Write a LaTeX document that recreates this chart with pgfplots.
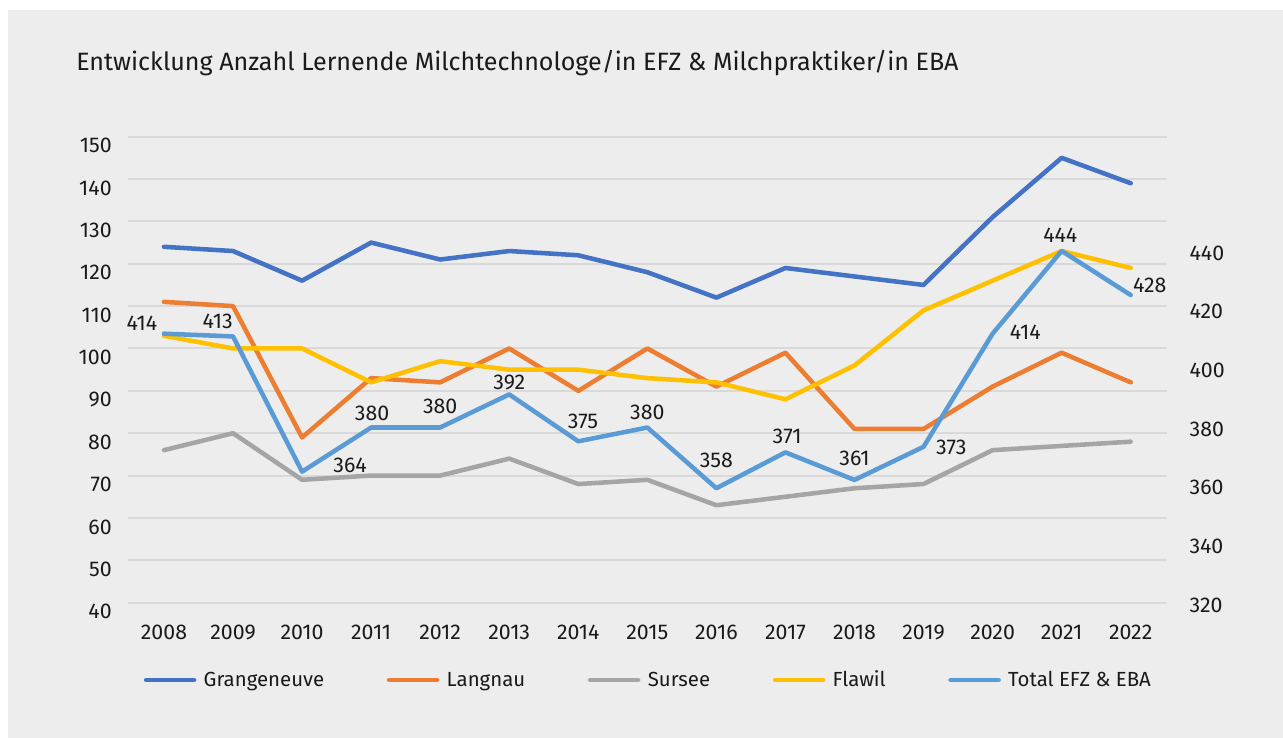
\documentclass[border=0pt]{standalone}
\usepackage{pgfplots}
\usepackage{pgfplotstable}
\pgfplotsset{compat=1.18}
\usepackage{fontspec}
\setmainfont{Fira Sans}
\definecolor{bg}{HTML}{EDEDED}
\definecolor{gridc}{HTML}{D9D9D9}
\definecolor{cG}{HTML}{4472C4}
\definecolor{cL}{HTML}{ED7D31}
\definecolor{cS}{HTML}{A5A5A5}
\definecolor{cF}{HTML}{FFC000}
\definecolor{cT}{HTML}{5B9BD5}
\definecolor{txt}{HTML}{1A1A1A}

\pgfplotstableread{
year G L S F
2008 124 111 76 103
2009 123 110 80 100
2010 116 79 69 100
2011 125 93 70 92
2012 121 92 70 97
2013 123 100 74 95
2014 122 90 68 95
2015 118 100 69 93
2016 112 91 63 92
2017 119 99 65 88
2018 117 81 67 96
2019 115 81 68 109
2020 131 91 76 116
2021 145 99 77 123
2022 139 92 78 119
}\primary

\pgfplotstableread{
year T dx dy
2008 414 -16.5 8
2009 413 -11.5 11
2010 364 36 4.5
2011 380 0.75 10.8
2012 380 0 15.75
2013 392 0 8.7
2014 375 3.5 15
2015 380 0 11.5
2016 358 0 21.2
2017 371 1.3 12
2018 361 0 16.3
2019 373 20.8 -0.5
2020 414 24.5 0.75
2021 444 -1 12
2022 428 14.25 7.3
}\total

\pgfplotsset{
  base/.style={
    scale only axis, width=779pt, height=349.5pt,
    at={(96pt,101.5pt)}, anchor=south west,
    xmin=2007.479, xmax=2022.521,
    axis line style={draw=none}, tick style={draw=none}, major tick length=0pt,
    clip=false,
    ticklabel style={font=\fontsize{16}{19}\selectfont, text=txt},
    /pgf/number format/assume math mode=true,
  },
  ser/.style={line width=3.4pt, line cap=round, line join=round},
}

\begin{document}
\begin{tikzpicture}
\fill[white] (0pt,0pt) rectangle (962.25pt,553.5pt);
\fill[bg] (6pt,0pt) rectangle (962.25pt,546pt);
\node[anchor=west, inner sep=0pt, font=\fontsize{18.8}{22}\selectfont, text=txt] at (57pt,506.5pt)
  {Entwicklung Anzahl Lernende Milchtechnologe/in EFZ \& Milchpraktiker/in EBA};

\begin{axis}[base,
  ymin=40, ymax=150, ytick={40,50,...,150},
  ymajorgrids, grid style={gridc, line width=1.5pt},
  xtick={2008,2009,2010,2011,2012,2013,2014,2015,2016,2017,2018,2019,2020,2021,2022},
  xticklabels={2008,2009,2010,2011,2012,2013,2014,2015,2016,2017,2018,2019,2020,2021,2022},
  xticklabel style={anchor=center, inner sep=0pt, yshift=-22.5pt},
  yticklabel style={anchor=east, inner sep=0pt, xshift=-12pt, yshift=-6.75pt},
  legend columns=5,
  legend style={at={(0.5,-0.166)}, anchor=center, draw=none, fill=none, inner sep=0pt,
    font=\fontsize{15.3}{18}\selectfont, text=txt,
    nodes={inner sep=0pt},
    /tikz/every odd column/.append style={column sep=5.5pt},
    /tikz/every even column/.append style={column sep=47pt}},
  legend image code/.code={\draw[#1, line width=3.4pt, line cap=round] (0pt,0pt) -- (36pt,0pt);},
]
\addplot[cG, ser] table[x=year, y=G]{\primary};
\addlegendentry{Grangeneuve}
\addplot[cL, ser] table[x=year, y=L]{\primary};
\addlegendentry{Langnau}
\addplot[cS, ser] table[x=year, y=S]{\primary};
\addlegendentry{Sursee}
\addplot[cF, ser] table[x=year, y=F]{\primary};
\addlegendentry{Flawil}
\addlegendimage{cT, ser}
\addlegendentry{Total EFZ \& EBA}
\end{axis}

\begin{axis}[base, hide axis, ymin=316.53, ymax=485.4]
\addplot[cT, ser, point meta=y,
  nodes near coords,
  visualization depends on={\thisrow{dx} \as \dx},
  visualization depends on={\thisrow{dy} \as \dy},
  every node near coord/.append style={anchor=center, inner sep=0pt,
    font=\fontsize{16}{19}\selectfont, text=txt, xshift=\dx pt, yshift=\dy pt},
] table[x=year, y=T]{\total};
\end{axis}

\begin{axis}[base, hide x axis, axis y line*=right, ymin=317.71, ymax=476.71,
  ytick={320,340,...,440},
  yticklabel style={anchor=west, inner sep=0pt, xshift=17pt, yshift=-6.75pt},
  axis line style={draw=none}]
\addplot[draw=none] coordinates {(2010,400)};
\end{axis}
\end{tikzpicture}
\end{document}
